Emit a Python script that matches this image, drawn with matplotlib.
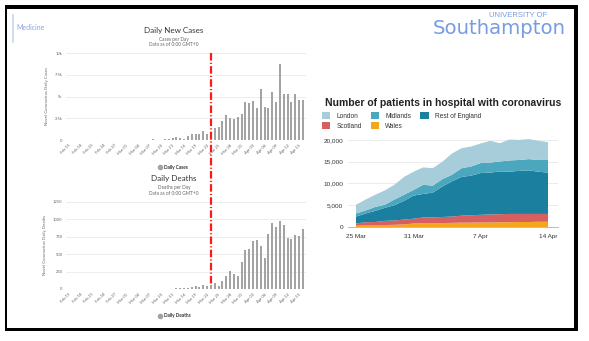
import numpy as np
import pandas as pd
import matplotlib
matplotlib.use("Agg")
import matplotlib.pyplot as plt
from matplotlib.lines import Line2D
from matplotlib.patches import Rectangle
import matplotlib.transforms as mtransforms

# ---------------- data ----------------
bar_dates = pd.date_range("2020-02-15", "2020-04-16", freq="D")
daily_cases = [0, 0, 0, 0, 0, 0, 0, 0, 0, 0, 4, 0, 2, 5, 3,
               12, 4, 11, 34, 30, 48, 43, 67, 48, 52, 83, 134, 208, 342, 251,
               152, 407, 676, 643, 714, 1035, 665, 967, 1427, 1452, 2129, 2885, 2546, 2433, 2619, 3009,
               4324, 4244, 4450, 3735, 5903, 3802, 3634, 5491, 4344, 8681, 5233, 5288, 4342, 5252, 4603, 4617]
daily_deaths = [0, 0, 0, 0, 0, 0, 0, 0, 0, 0, 0, 0, 0, 0, 0,
                0, 0, 0, 0, 1, 0, 1, 1, 1, 2, 2, 2, 1, 11, 14,
                20, 16, 32, 41, 33, 56, 48, 54, 87, 41, 115, 181, 260, 209, 180, 381,
                563, 569, 684, 708, 621, 439, 786, 938, 881, 980, 917, 737, 717, 778, 761, 861]
bar_tick_labels = [d.strftime("%b %d") for d in bar_dates[::3]]
lockdown_date = pd.Timestamp("2020-03-23")

hosp_dates = pd.date_range("2020-03-25", "2020-04-14", freq="D")
hosp_names = ["Wales", "Scotland", "Rest of England", "Midlands", "London"]
wales = [300, 350, 400, 450, 500, 600, 800, 900, 900, 900, 950, 1000, 1000, 1050, 1050, 1100, 1100, 1150, 1150, 1200, 1200]
scotland = [500, 750, 750, 950, 1000, 1100, 1100, 1300, 1300, 1400, 1450, 1600, 1700, 1750, 1850, 1850, 1900, 1850, 1850, 1800, 1800]
rest_of_england = [1600, 2000, 2550, 3000, 3500, 4300, 5300, 5400, 5700, 7000, 8100, 8900, 9100, 9600, 9600, 9800, 9700, 9900, 10000, 9700, 9500]
midlands = [700, 700, 900, 700, 1300, 1400, 1300, 2100, 1600, 1700, 1500, 2000, 2100, 2300, 2300, 2300, 2600, 2500, 2600, 2700, 2900]
london = [2000, 2500, 2800, 3300, 3400, 4100, 4200, 4000, 4000, 4000, 4900, 4600, 4600, 4500, 5000, 4200, 4800, 4600, 4600, 4400, 4100]
hosp_colors = ["#f5a71b", "#d65f60", "#1b7fa0", "#4aa7bd", "#a6cdd9"]
hosp_tick_dates = ["2020-03-25", "2020-03-31", "2020-04-07", "2020-04-14"]
hosp_tick_labels = ["25 Mar", "31 Mar", "7 Apr", "14 Apr"]

# ---------------- figure ----------------
W, H = 589, 341
fig = plt.figure(figsize=(W / 100, H / 100), dpi=100)
fig.patch.set_facecolor("white")


def fx(x):
    return x / W


def fy(y):
    return 1 - y / H


def add_ax(x0, y0, x1, y1):
    return fig.add_axes([x0 / W, 1 - y1 / H, (x1 - x0) / W, (y1 - y0) / H])


# black slide border
for (x0, y0, x1, y1) in [(5, 5, 578, 9), (5, 5, 7.3, 331), (574, 5, 578, 331), (5, 328, 578, 331)]:
    fig.add_artist(Rectangle((fx(x0), fy(y1)), (x1 - x0) / W, (y1 - y0) / H,
                             transform=fig.transFigure, color="black", lw=0))

# Medicine tag
fig.add_artist(Line2D([fx(12.5), fx(12.5)], [fy(15), fy(42)], color="#c9d5f3", lw=1.2))
fig.text(fx(16), fy(27), "Medicine", fontsize=5.0, color="#8aa4e6", va="center", ha="left",
         family="Lato")

# Southampton logo
fig.text(fx(433), fy(33.5), "Southampton", fontsize=14.2, color="#769ce4", ha="left",
         va="baseline", family="DejaVu Sans")
fig.text(fx(489), fy(17.2), "UNIVERSITY OF", fontsize=5.5, color="#769ce4", ha="left",
         va="baseline", family="Liberation Sans")

x_idx = np.arange(len(bar_dates))
lock_idx = int((lockdown_date - bar_dates[0]).days)


def bar_panel(ax, values, ymax, yticks, yticklabels, ylabel):
    ax.bar(x_idx, values, width=0.55, color="#a3a3a3", zorder=2)
    ax.set_xlim(-0.8, len(bar_dates) - 0.2)
    ax.set_ylim(0, ymax)
    ax.set_yticks(yticks)
    ax.set_yticklabels(yticklabels, fontsize=3.0, color="#666666", family="Lato")
    ax.set_xticks(x_idx[::3])
    ax.set_xticklabels(bar_tick_labels, rotation=45, ha="right", rotation_mode="anchor",
                       fontsize=3.0, color="#666666", family="Lato")
    ax.tick_params(length=0, pad=2.5)
    ax.grid(axis="y", color="#e6e6e6", lw=0.5, zorder=0)
    for s in ax.spines.values():
        s.set_visible(False)
    ax.axhline(0, color="#ccd6eb", lw=0.6, zorder=1)
    ax.set_ylabel(ylabel, fontsize=3.1, color="#666666", family="Lato", labelpad=4)


ax1 = add_ax(66, 53, 306, 140)
bar_panel(ax1, daily_cases, 10000, [0, 2500, 5000, 7500, 10000],
          ["0", "2.5k", "5k", "7.5k", "10k"], "Novel Coronavirus Daily Cases")
ax2 = add_ax(66, 201.7, 306, 289)
bar_panel(ax2, daily_deaths, 1250, [0, 250, 500, 750, 1000, 1250],
          ["0", "250", "500", "750", "1000", "1250"], "Novel Coronavirus Daily Deaths")

# titles of left panels
for (cy, title, sub) in [(31, "Daily New Cases", "Cases per Day"), (179, "Daily Deaths", "Deaths per Day")]:
    fig.text(fx(174), fy(cy), title, fontsize=5.8, color="#333333", ha="center", va="center",
             family="Lato")
    fig.text(fx(174), fy(cy + 8.5), sub, fontsize=3.4, color="#666666", ha="center",
             va="center", family="Lato")
    fig.text(fx(174), fy(cy + 14), "Data as of 0:00 GMT+0", fontsize=3.4, color="#666666",
             ha="center", va="center", family="Lato")

# legends of left panels
for (cy, label) in [(167, "Daily Cases"), (316, "Daily Deaths")]:
    fig.add_artist(Line2D([fx(160)], [fy(cy)], marker="o", markersize=3.0, color="#a3a3a3",
                          transform=fig.transFigure))
    fig.text(fx(164), fy(cy), label, fontsize=3.4, color="#333333", ha="left", va="center",
             family="Lato", fontweight="bold")

# lockdown line spanning both panels
trans = mtransforms.blended_transform_factory(ax1.transData, fig.transFigure)
fig.add_artist(Line2D([lock_idx, lock_idx], [fy(53), fy(284)], transform=trans,
                      color="#ff1a1a", lw=1.6, linestyle=(0, (3.4, 1.0, 0.5, 1.0)), zorder=5))

# ---------------- right: stacked area ----------------
ax3 = add_ax(348, 135.6, 558, 227)
hx = np.arange(len(hosp_dates))
ax3.stackplot(hx, wales, scotland, rest_of_england, midlands, london,
              colors=hosp_colors, labels=hosp_names, lw=0, zorder=2)
ax3.set_xlim(-0.83, 21.04)
ax3.set_ylim(0, 21000)
ax3.set_yticks([0, 5000, 10000, 15000, 20000])
ax3.set_yticklabels(["0", "5,000", "10,000", "15,000", "20,000"], fontsize=4.6,
                    color="#333333", family="Liberation Sans")
tick_pos = [int((pd.Timestamp(d) - hosp_dates[0]).days) for d in hosp_tick_dates]
ax3.set_xticks(tick_pos)
ax3.set_xticklabels(hosp_tick_labels, fontsize=4.6, color="#333333", family="Liberation Sans")
ax3.tick_params(axis="y", length=0, pad=3.5)
ax3.tick_params(axis="x", length=0, pad=5)
ax3.grid(axis="y", color="#e8e8e8", lw=0.6, zorder=0)
for s in ["left", "right", "top"]:
    ax3.spines[s].set_visible(False)
ax3.spines["bottom"].set_color("#bbbbbb")
ax3.spines["bottom"].set_linewidth(0.7)

fig.text(fx(325), fy(103), "Number of patients in hospital with coronavirus", fontsize=7.5,
         fontweight="bold", color="#222222", ha="left", va="center", family="Liberation Sans")

handles, labels = ax3.get_legend_handles_labels()
order = [4, 1, 3, 0, 2]  # London, Scotland, Midlands, Wales, Rest of England (column-major)
leg = fig.legend([handles[i] for i in order], [labels[i] for i in order], ncol=3,
                 loc="upper left", bbox_to_anchor=(fx(322), fy(112)), frameon=False,
                 prop={"family": "Liberation Sans", "size": 4.7},
                 handlelength=1.3, handleheight=1.3, handletextpad=0.9, columnspacing=1.4,
                 labelspacing=0.35, borderpad=0, borderaxespad=0)
for t in leg.get_texts():
    t.set_color("#333333")

fig.savefig("out.png", dpi=100)
